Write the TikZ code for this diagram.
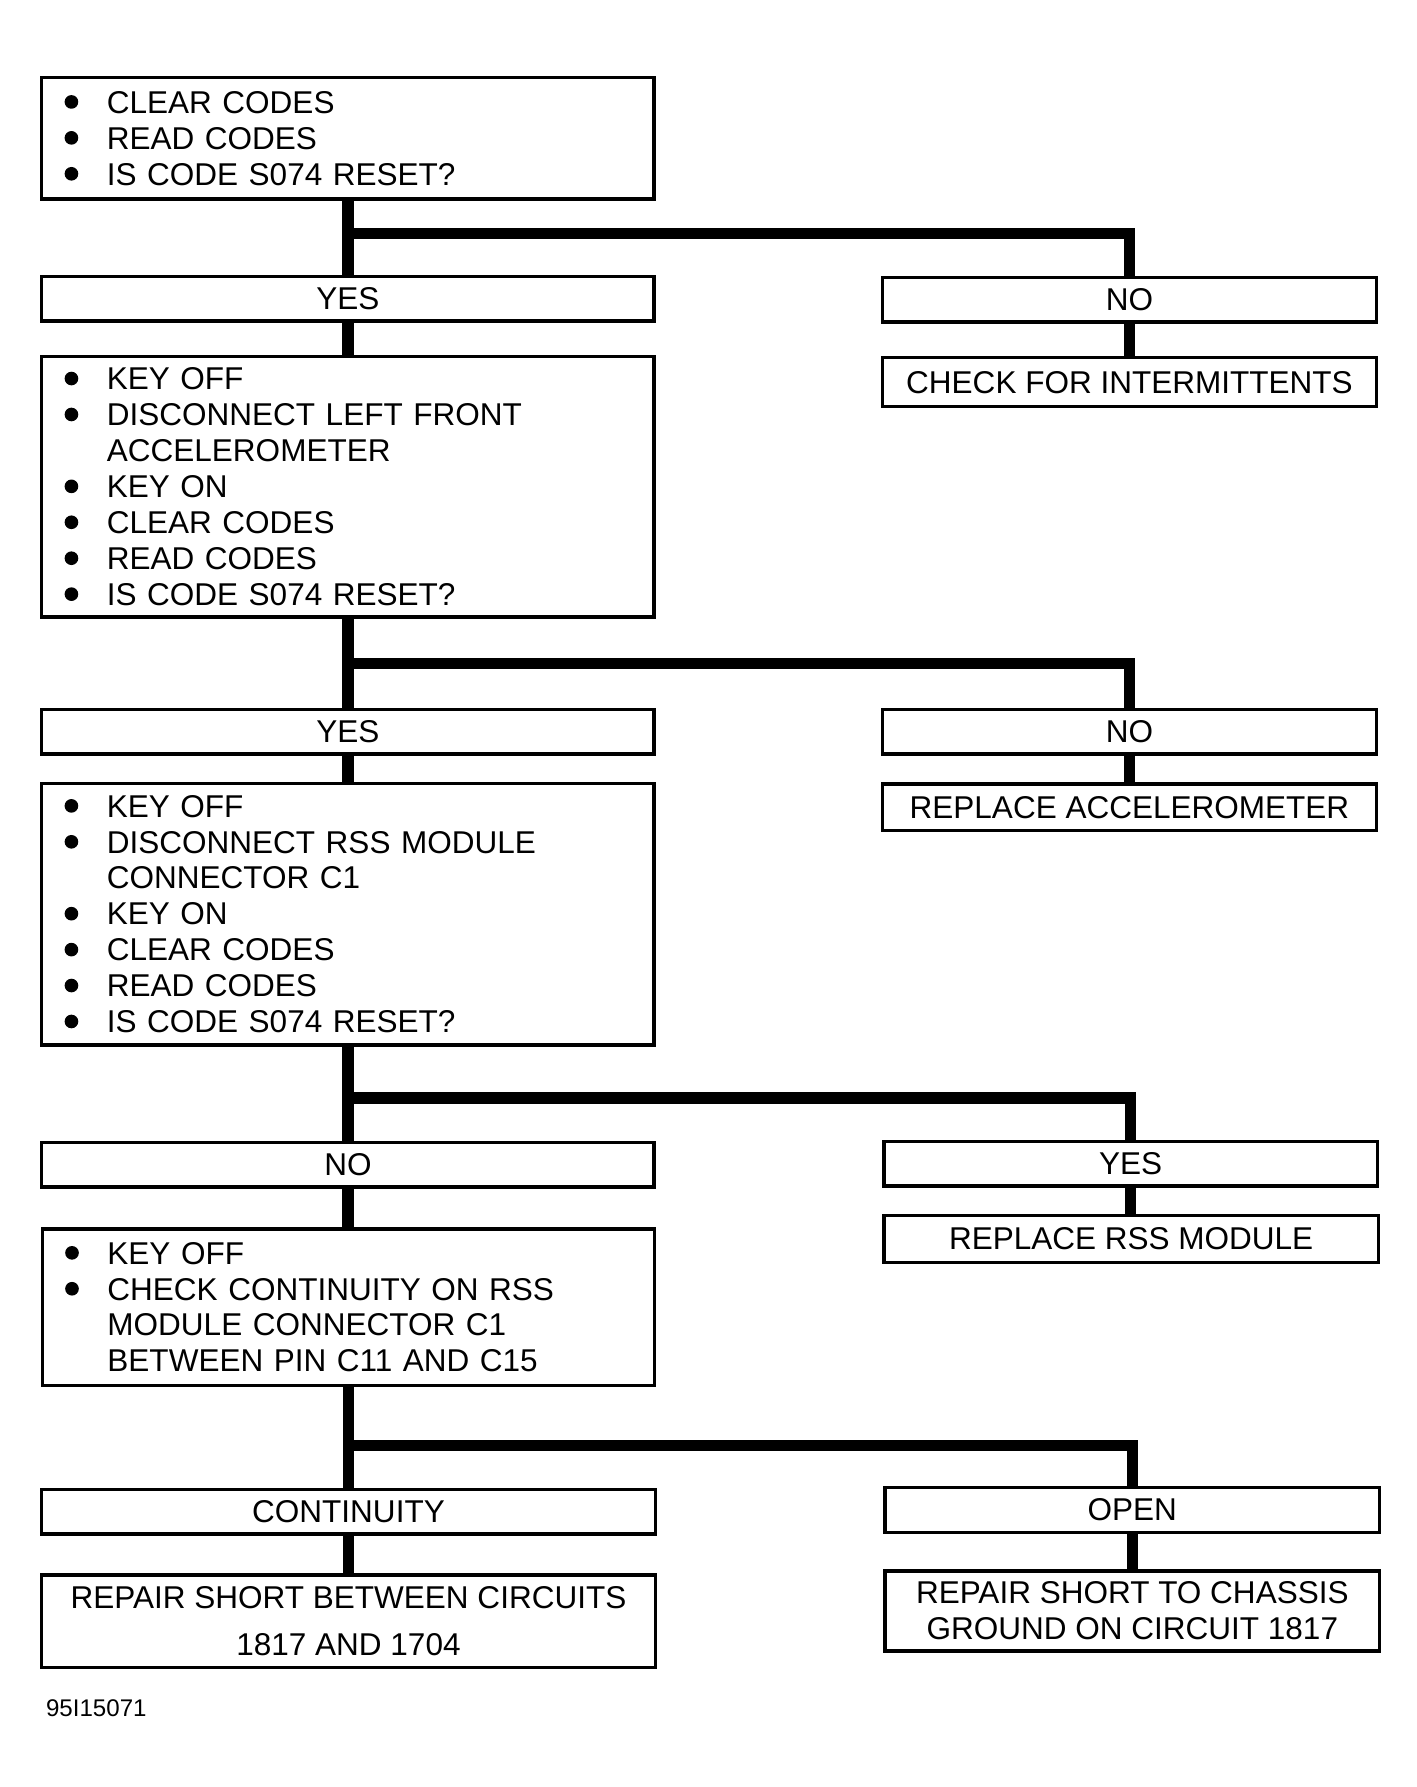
\documentclass[tikz,border=0pt]{standalone}
\usepackage{fontspec}
\setmainfont{Liberation Sans}
\usetikzlibrary{positioning,calc}
\newcommand{\bul}{\makebox[0.74cm][l]{\raisebox{2.2pt}{\tikz\fill (0,0) circle (3.4pt);}}}
\newcommand{\ind}{\hspace*{0.74cm}}

\begin{document}
\begin{tikzpicture}[x=0.02cm, y=-0.02cm, line join=miter,
    font=\fontsize{15.7}{17.9}\selectfont,
    qbox/.style={draw, line width=0.06cm, inner xsep=0.4cm, inner ysep=0pt, text width=9.92cm, align=left},
    abox/.style={draw, line width=0.06cm, inner sep=0pt, align=center, minimum height=0.78cm},
    trunk/.style={line width=0.2cm}]
    \useasboundingbox (0,0) rectangle (1240,1564);

    % left column
    \node[qbox, minimum height=2.12cm] (q1) at (304.5,121) {\bul CLEAR CODES\\ \bul READ CODES\\ \bul IS CODE S074 RESET?};
    \node[abox, minimum width=10.72cm] (yes1) at (304.5,261.5) {YES};
    \node[qbox, minimum height=4.56cm] (q2) at (304.5,426) {\bul KEY OFF\\ \bul DISCONNECT LEFT FRONT\\ \ind ACCELEROMETER\\ \bul KEY ON\\ \bul CLEAR CODES\\ \bul READ CODES\\ \bul IS CODE S074 RESET?};
    \node[abox, minimum width=10.72cm] (yes2) at (304.5,640.5) {YES};
    \node[qbox, minimum height=4.58cm] (q3) at (304.5,800) {\bul KEY OFF\\ \bul DISCONNECT RSS MODULE\\ \ind CONNECTOR C1\\ \bul KEY ON\\ \bul CLEAR CODES\\ \bul READ CODES\\ \bul IS CODE S074 RESET?};
    \node[abox, minimum width=10.72cm] (no3) at (304.5,1019.5) {NO};
    \node[qbox, minimum height=2.74cm] (q4) at (305,1144) {\bul KEY OFF\\ \bul CHECK CONTINUITY ON RSS\\ \ind MODULE CONNECTOR C1\\ \ind BETWEEN PIN C11 AND C15};
    \node[abox, minimum width=10.74cm] (cont) at (305,1323) {CONTINUITY};
    \node[abox, minimum width=10.74cm, minimum height=1.62cm] (rep1) at (305,1419) {REPAIR SHORT BETWEEN CIRCUITS\\[5.4pt] 1817 AND 1704};

    % right column
    \node[abox, minimum width=8.64cm] (no1) at (988.5,262.5) {NO};
    \node[abox, minimum width=8.64cm, minimum height=0.86cm] (chk) at (988.5,334.5) {CHECK FOR INTERMITTENTS};
    \node[abox, minimum width=8.64cm] (no2) at (988.5,640.5) {NO};
    \node[abox, minimum width=8.64cm, minimum height=0.82cm] (repacc) at (988.5,706.5) {REPLACE ACCELEROMETER};
    \node[abox, minimum width=8.64cm] (yes3) at (989.5,1018.5) {YES};
    \node[abox, minimum width=8.66cm, minimum height=0.82cm] (repmod) at (990,1084.5) {REPLACE RSS MODULE};
    \node[abox, minimum width=8.66cm] (open) at (991,1321.5) {OPEN};
    \node[abox, minimum width=8.66cm, minimum height=1.4cm] (rep2) at (991,1410) {REPAIR SHORT TO CHASSIS\\ GROUND ON CIRCUIT 1817};

    \node[anchor=west, inner sep=0pt, font=\fontsize{12}{14}\selectfont] (fig) at (40,1495) {95I15071};

    % branches
    \foreach \q/\a/\b/\d in {q1/yes1/no1/29, q2/yes2/no2/39, q3/no3/yes3/45, q4/cont/open/51} {
        \draw[trunk] (\q.south) -- (\q.south |- \a.north);
        \draw[trunk] (\q.south) -- ++(0,\d) -| (\b.north);
    }
    \foreach \a/\b in {yes1/q2, yes2/q3, no3/q4, cont/rep1, no1/chk, no2/repacc, yes3/repmod, open/rep2} {
        \draw[trunk] (\a.south) -- (\a.south |- \b.north);
    }
\end{tikzpicture}
\end{document}
